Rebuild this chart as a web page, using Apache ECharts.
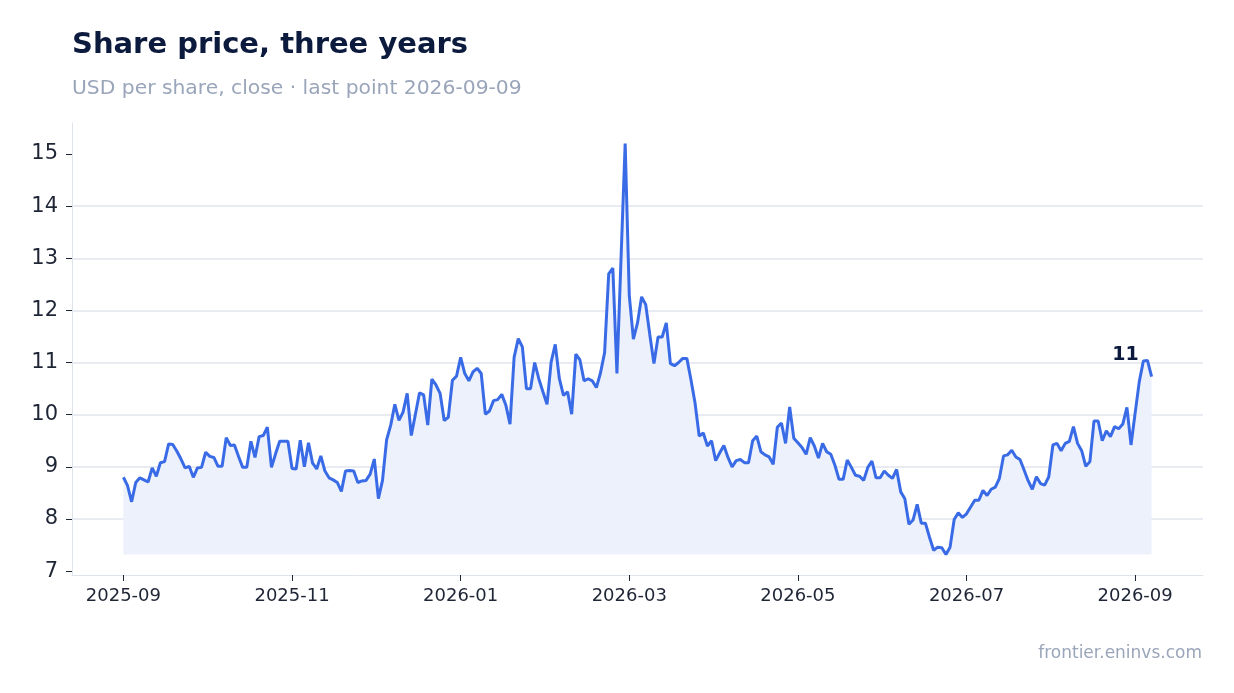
<!DOCTYPE html>
<html lang="en">
<head>
<meta charset="UTF-8">
<title>Share price, three years</title>
<script src="https://cdn.jsdelivr.net/npm/echarts@6.0.0/dist/echarts.min.js"></script>
<style>
  html, body { margin: 0; padding: 0; background: #fff; }
  #main { width: 1234px; height: 693px; }
</style>
</head>
<body>
<div id="main"></div>
<script>
// last trading day of the series; one close per weekday going back from it
var lastDate = '2026-09-09';

// daily close, USD
var prices = [
  8.80, 8.64, 8.33, 8.70, 8.79, 8.75, 8.71, 8.98, 8.82, 9.08,
  9.10, 9.44, 9.43, 9.30, 9.15, 8.98, 9.01, 8.80, 8.98, 8.99,
  9.28, 9.20, 9.18, 9.01, 9.01, 9.56, 9.41, 9.42, 9.20, 8.99,
  8.99, 9.49, 9.18, 9.58, 9.60, 9.76, 8.99, 9.25, 9.49, 9.49,
  9.49, 8.97, 8.96, 9.51,
  9.00, 9.46, 9.07, 8.96, 9.21, 8.92, 8.79, 8.75, 8.70, 8.53,
  8.92, 8.93, 8.92, 8.70, 8.73, 8.74, 8.86, 9.15, 8.39, 8.74,
  9.52, 9.80, 10.20, 9.89, 10.05, 10.41, 9.60, 10.01, 10.42, 10.38,
  9.80, 10.68, 10.57, 10.41, 9.89, 9.95, 10.66, 10.74, 11.10, 10.79,
  10.65, 10.82, 10.89, 10.79,
  10.01, 10.07, 10.27, 10.29, 10.39, 10.18, 9.82, 11.10, 11.46, 11.30,
  10.50, 10.50, 11.00, 10.69, 10.44, 10.20, 11.01, 11.35, 10.69, 10.37,
  10.44, 10.01, 11.16, 11.05, 10.65, 10.69, 10.65, 10.52, 10.80, 11.19,
  12.70, 12.81, 10.79, 13.00, 15.20, 12.29, 11.45, 11.76, 12.26, 12.11,
  11.53, 10.98, 11.49, 11.49, 11.76, 10.98, 10.94, 11.00, 11.08, 11.08,
  10.67, 10.22, 9.59, 9.65, 9.40, 9.50, 9.12, 9.27, 9.41, 9.18,
  9.00, 9.12, 9.14, 9.08, 9.08, 9.50, 9.59, 9.29, 9.23, 9.19,
  9.05, 9.76, 9.84, 9.45, 10.15, 9.55, 9.46,
  9.37, 9.24, 9.56, 9.40, 9.17, 9.45, 9.29, 9.24, 9.03, 8.76,
  8.76, 9.13, 8.99, 8.84, 8.82, 8.74, 8.99, 9.11, 8.79, 8.79,
  8.92, 8.84, 8.78, 8.95, 8.52, 8.39, 7.90, 7.98, 8.28, 7.92,
  7.92, 7.65, 7.40, 7.46, 7.45, 7.32, 7.46, 7.99, 8.12, 8.03,
  8.10, 8.23, 8.36, 8.36, 8.55, 8.45, 8.57, 8.61, 8.78,
  9.21, 9.23, 9.32, 9.19, 9.14, 8.94, 8.73, 8.57, 8.81, 8.68,
  8.65, 8.81, 9.42, 9.45, 9.31, 9.45, 9.49, 9.77, 9.45, 9.31,
  9.01, 9.10, 9.88, 9.88, 9.50, 9.69, 9.58, 9.77, 9.73, 9.82,
  10.14, 9.42, 10.03, 10.63, 11.03, 11.04, 10.73
];

// x ticks sit on every 41st trading day, y ticks on whole dollars
var xTickIndex = [0, 41, 82, 123, 164, 205, 246];
var priceTicks = [7, 8, 9, 10, 11, 12, 13, 14, 15];

var BLUE = '#3a6be6';
var NAVY = '#0c1a3d';
var GREY = '#9aa5ba';
var INK = '#1e2535';

function pad(n) { return n < 10 ? '0' + n : '' + n; }
function ymd(d) { return d.getFullYear() + '-' + pad(d.getMonth() + 1) + '-' + pad(d.getDate()); }

// trading calendar (weekdays) ending on lastDate
var dates = [];
var day = new Date(lastDate + 'T00:00:00');
while (dates.length < prices.length) {
  if (day.getDay() !== 0 && day.getDay() !== 6) dates.unshift(ymd(day));
  day.setDate(day.getDate() - 1);
}

var n = prices.length;
var data = prices.map(function (v, i) { return [i, v]; });

var lo = Math.min.apply(null, prices), hi = Math.max.apply(null, prices);
var yPad = (hi - lo) * 0.05, xPad = (n - 1) * 0.05;
var last = data[n - 1];

var myChart = echarts.init(document.getElementById('main'), null, { renderer: 'canvas' });

var option = {
  animation: false,
  backgroundColor: '#fff',
  textStyle: { fontFamily: 'DejaVu Sans' },
  title: [
    { text: 'Share price, three years', left: 72, top: 31, padding: 0,
      textStyle: { fontSize: 29, fontWeight: 'bold', color: NAVY, fontFamily: 'DejaVu Sans' } },
    { text: 'USD per share, close · last point 2026-09-09', left: 72, top: 79, padding: 0,
      textStyle: { fontSize: 20.3, fontWeight: 'normal', color: GREY, fontFamily: 'DejaVu Sans' } },
    { text: 'frontier.eninvs.com', right: 32, top: 645, padding: 0,
      textStyle: { fontSize: 17, fontWeight: 'normal', color: GREY, fontFamily: 'DejaVu Sans' } }
  ],
  grid: { left: 72, right: 31, top: 123, bottom: 118, containLabel: false, outerBoundsMode: 'none' },
  xAxis: {
    type: 'value',
    min: -xPad,
    max: n - 1 + xPad,
    axisLine: { show: true, onZero: false, lineStyle: { color: '#dfe3ea', width: 1 } },
    axisTick: { show: true, length: 6, lineStyle: { color: INK }, customValues: xTickIndex },
    axisLabel: {
      customValues: xTickIndex,
      margin: 12, fontSize: 18, color: INK, fontFamily: 'DejaVu Sans',
      formatter: function (v) { return dates[Math.round(v)].slice(0, 7); }
    },
    splitLine: { show: false }
  },
  yAxis: {
    type: 'value',
    min: lo - yPad,
    max: hi + yPad,
    splitNumber: 8,
    axisLine: { show: true, onZero: false, lineStyle: { color: '#dfe3ea', width: 1 } },
    axisTick: { show: true, length: 6, lineStyle: { color: INK }, customValues: priceTicks },
    axisLabel: { customValues: priceTicks, margin: 14, fontSize: 21, color: INK, fontFamily: 'DejaVu Sans' },
    splitLine: { show: true, showMinLine: false, showMaxLine: false, lineStyle: { color: '#e1e5ee', width: 1.5 } }
  },
  series: [
    {
      type: 'line',
      data: data,
      showSymbol: false,
      symbol: 'none',
      lineStyle: { color: BLUE, width: 3 },
      itemStyle: { color: BLUE },
      areaStyle: { color: '#edf1fc', opacity: 1, origin: lo },
      markPoint: {
        silent: true,
        symbol: 'circle',
        symbolSize: 0,
        data: [{ coord: last, value: Math.round(last[1]) }],
        label: { show: true, formatter: '{c}', color: NAVY, fontWeight: 'bold', fontSize: 19,
          fontFamily: 'DejaVu Sans', offset: [-26, -22] }
      }
    }
  ]
};

myChart.setOption(option);
</script>
</body>
</html>
